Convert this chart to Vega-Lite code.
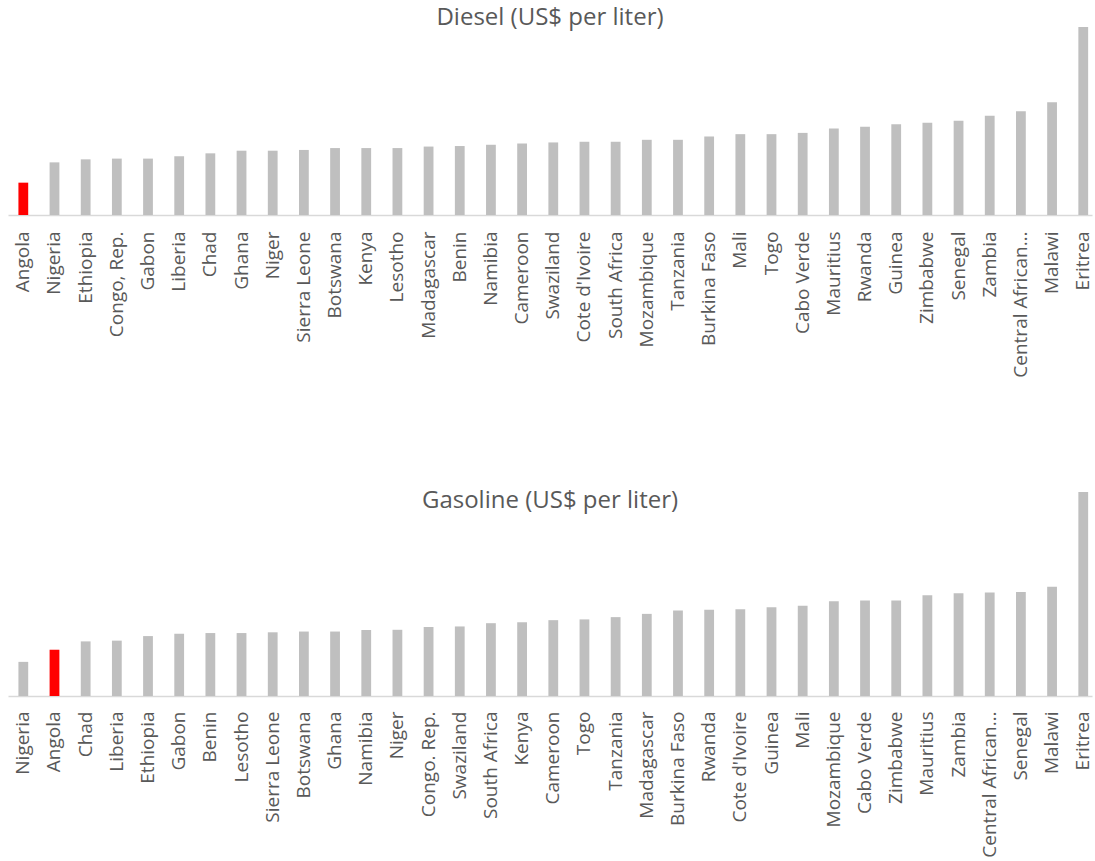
{
  "$schema": "https://vega.github.io/schema/vega-lite/v6.json",
  "background": "white",
  "padding": {"left": 8, "top": 6, "right": 3, "bottom": 0},
  "spacing": 277,
  "bounds": "flush",
  "config": {
    "view": {"stroke": null},
    "font": "Open Sans",
    "title": {"font": "Open Sans", "fontSize": 24, "fontWeight": "normal", "color": "#595959", "anchor": "middle"},
    "axisX": {
      "title": null, "labelAngle": -90, "labelFont": "Open Sans", "labelFontSize": 19, "labelColor": "#595959",
      "ticks": false, "labelPadding": 16, "domainColor": "#d9d9d9", "domainWidth": 1.5, "labelOverlap": false, "labelLimit": 0,
      "labelExpr": "datum.label == 'Central African Republic' ? 'Central African…' : datum.label"
    }
  },
  "datasets": {
    "diesel": [
      {"country": "Angola", "price": 0.43},
      {"country": "Nigeria", "price": 0.70},
      {"country": "Ethiopia", "price": 0.74},
      {"country": "Congo, Rep.", "price": 0.75},
      {"country": "Gabon", "price": 0.75},
      {"country": "Liberia", "price": 0.78},
      {"country": "Chad", "price": 0.82},
      {"country": "Ghana", "price": 0.855},
      {"country": "Niger", "price": 0.855},
      {"country": "Sierra Leone", "price": 0.865},
      {"country": "Botswana", "price": 0.89},
      {"country": "Kenya", "price": 0.89},
      {"country": "Lesotho", "price": 0.89},
      {"country": "Madagascar", "price": 0.91},
      {"country": "Benin", "price": 0.917},
      {"country": "Namibia", "price": 0.934},
      {"country": "Cameroon", "price": 0.95},
      {"country": "Swaziland", "price": 0.965},
      {"country": "Cote d'Ivoire", "price": 0.974},
      {"country": "South Africa", "price": 0.974},
      {"country": "Mozambique", "price": 1.0},
      {"country": "Tanzania", "price": 1.0},
      {"country": "Burkina Faso", "price": 1.044},
      {"country": "Mali", "price": 1.075},
      {"country": "Togo", "price": 1.075},
      {"country": "Cabo Verde", "price": 1.092},
      {"country": "Mauritius", "price": 1.15},
      {"country": "Rwanda", "price": 1.175},
      {"country": "Guinea", "price": 1.206},
      {"country": "Zimbabwe", "price": 1.228},
      {"country": "Senegal", "price": 1.254},
      {"country": "Zambia", "price": 1.32},
      {"country": "Central African Republic", "price": 1.38},
      {"country": "Malawi", "price": 1.50},
      {"country": "Eritrea", "price": 2.50}
    ],
    "gasoline": [
      {"country": "Nigeria", "price": 0.45},
      {"country": "Angola", "price": 0.61},
      {"country": "Chad", "price": 0.72},
      {"country": "Liberia", "price": 0.73},
      {"country": "Ethiopia", "price": 0.79},
      {"country": "Gabon", "price": 0.82},
      {"country": "Benin", "price": 0.83},
      {"country": "Lesotho", "price": 0.83},
      {"country": "Sierra Leone", "price": 0.84},
      {"country": "Botswana", "price": 0.85},
      {"country": "Ghana", "price": 0.85},
      {"country": "Namibia", "price": 0.87},
      {"country": "Niger", "price": 0.873},
      {"country": "Congo. Rep.", "price": 0.91},
      {"country": "Swaziland", "price": 0.917},
      {"country": "South Africa", "price": 0.96},
      {"country": "Kenya", "price": 0.974},
      {"country": "Cameroon", "price": 1.0},
      {"country": "Togo", "price": 1.01},
      {"country": "Tanzania", "price": 1.04},
      {"country": "Madagascar", "price": 1.083},
      {"country": "Burkina Faso", "price": 1.127},
      {"country": "Rwanda", "price": 1.136},
      {"country": "Cote d'Ivoire", "price": 1.145},
      {"country": "Guinea", "price": 1.171},
      {"country": "Mali", "price": 1.189},
      {"country": "Mozambique", "price": 1.25},
      {"country": "Cabo Verde", "price": 1.259},
      {"country": "Zimbabwe", "price": 1.259},
      {"country": "Mauritius", "price": 1.329},
      {"country": "Zambia", "price": 1.355},
      {"country": "Central African Republic", "price": 1.364},
      {"country": "Senegal", "price": 1.373},
      {"country": "Malawi", "price": 1.439},
      {"country": "Eritrea", "price": 2.69}
    ]
  },
  "vconcat": [
    {
      "data": {"name": "diesel"},
      "title": {"text": "Diesel (US$ per liter)", "offset": -3},
      "width": 1084,
      "height": 188,
      "mark": {"type": "bar"},
      "encoding": {
        "x": {"field": "country", "type": "nominal", "sort": null,
              "scale": {"paddingInner": 0.686, "paddingOuter": 0.229, "align": 0.73}},
        "y": {"field": "price", "type": "quantitative", "scale": {"nice": false, "domain": [0, 2.5]}, "axis": null},
        "color": {"condition": {"test": "datum.country === 'Angola'", "value": "#ff0000"}, "value": "#bfbfbf"}
      }
    },
    {
      "data": {"name": "gasoline"},
      "title": {"text": "Gasoline (US$ per liter)", "offset": -21},
      "width": 1084,
      "height": 204,
      "mark": {"type": "bar"},
      "encoding": {
        "x": {"field": "country", "type": "nominal", "sort": null,
              "scale": {"paddingInner": 0.686, "paddingOuter": 0.229, "align": 0.73},
              "axis": {"labelPadding": 15}},
        "y": {"field": "price", "type": "quantitative", "scale": {"nice": false, "domain": [0, 2.69]}, "axis": null},
        "color": {"condition": {"test": "datum.country === 'Angola'", "value": "#ff0000"}, "value": "#bfbfbf"}
      }
    }
  ]
}
